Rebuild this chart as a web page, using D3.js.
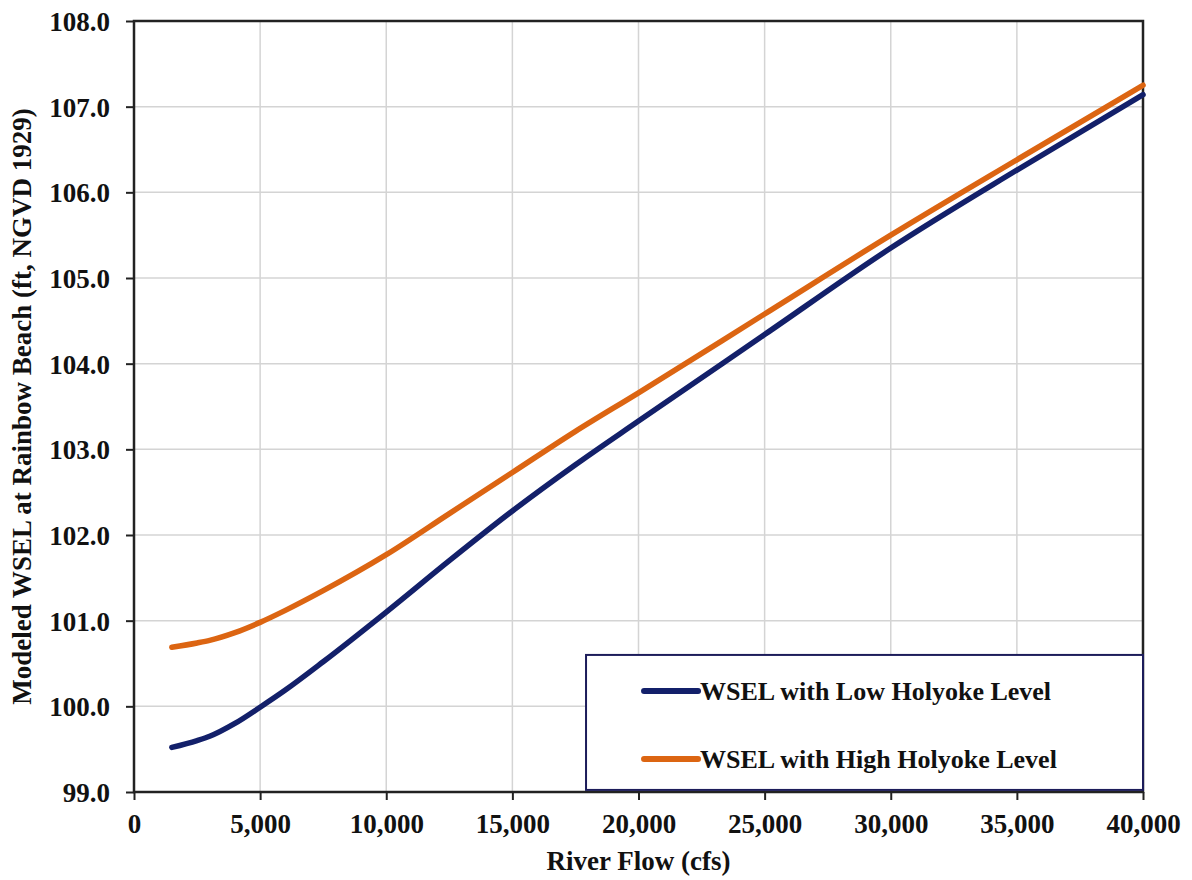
<!DOCTYPE html>
<html>
<head>
<meta charset="utf-8">
<script src="https://cdn.jsdelivr.net/npm/d3@7"></script>
<style>
  body { margin: 0; background: #fff; }
  svg { display: block; font-family: 'Liberation Serif', 'Times New Roman', serif; font-weight: bold; }
  .tick text { font-family: 'Liberation Serif', 'Times New Roman', serif; font-size: 27px; fill: #111; }
  .axis-title { font-size: 27px; fill: #111; }
  .legend-text { font-size: 26px; fill: #111; }
</style>
</head>
<body>
<svg id="chart"></svg>
<script>
// river flow (cfs)
var flows = [1500, 2500, 3000, 4000, 5000, 6000, 7500, 10000, 12500, 15000, 17500, 20000, 25000, 30000, 35000, 40000];
// WSEL with low Holyoke level (ft)
var lowLevel = [99.52, 99.60, 99.65, 99.80, 99.99, 100.19, 100.52, 101.10, 101.70, 102.28, 102.82, 103.33, 104.34, 105.35, 106.26, 107.14];
// WSEL with high Holyoke level (ft)
var highLevel = [100.69, 100.74, 100.77, 100.86, 100.98, 101.12, 101.35, 101.77, 102.25, 102.73, 103.21, 103.66, 104.58, 105.50, 106.38, 107.25];

var xTicks = [0, 5000, 10000, 15000, 20000, 25000, 30000, 35000, 40000];
var yTicks = [99, 100, 101, 102, 103, 104, 105, 106, 107, 108];

var seriesNames = ["WSEL with Low Holyoke Level", "WSEL with High Holyoke Level"];
var seriesColors = ["#13206a", "#dc6512"];

/* ~~~~~~~~~ SVG SETUP ~~~~~~~~~ */
var svgWidth = 1192, svgHeight = 880;
var margin = { top: 21, right: 49, bottom: 88, left: 134 };
var chartWidth = svgWidth - margin.left - margin.right,
    chartHeight = svgHeight - margin.top - margin.bottom;

var svg = d3.select("#chart").attr("width", svgWidth).attr("height", svgHeight);
var g = svg.append("g").attr("transform", "translate(" + margin.left + "," + margin.top + ")");

var x_scale = d3.scaleLinear().domain([0, 40000]).range([0, chartWidth]);
var y_scale = d3.scaleLinear().domain([99, 108]).range([chartHeight, 0]);

// gridlines
g.append("g").attr("class", "grid-x")
  .selectAll("line").data(xTicks.slice(1, -1)).enter().append("line")
  .attr("x1", function(d){ return x_scale(d); }).attr("x2", function(d){ return x_scale(d); })
  .attr("y1", 0).attr("y2", chartHeight)
  .attr("stroke", "#d4d4d4").attr("stroke-width", 1.5);

g.append("g").attr("class", "grid-y")
  .selectAll("line").data(yTicks.slice(1, -1)).enter().append("line")
  .attr("y1", function(d){ return y_scale(d); }).attr("y2", function(d){ return y_scale(d); })
  .attr("x1", 0).attr("x2", chartWidth)
  .attr("stroke", "#d4d4d4").attr("stroke-width", 1.5);

// axes (font attrs cleared so the serif css applies)
var xAxis = g.append("g").attr("class", "x-axis")
  .attr("transform", "translate(0," + chartHeight + ")")
  .call(d3.axisBottom(x_scale).tickValues(xTicks).tickSizeInner(8).tickSizeOuter(0).tickPadding(14)
        .tickFormat(d3.format(",")))
  .attr("font-family", null).attr("font-size", null);
xAxis.select(".domain").remove();
xAxis.selectAll("line").attr("stroke", "#222").attr("stroke-width", 2);

var yAxis = g.append("g").attr("class", "y-axis")
  .call(d3.axisLeft(y_scale).tickValues(yTicks).tickSizeInner(8).tickSizeOuter(0).tickPadding(16)
        .tickFormat(d3.format(".1f")))
  .attr("font-family", null).attr("font-size", null);
yAxis.select(".domain").remove();
yAxis.selectAll("line").attr("stroke", "#222").attr("stroke-width", 2);
yAxis.selectAll("text").attr("dy", "0.35em");

// plot frame
g.append("rect")
  .attr("x", 0).attr("y", 0).attr("width", chartWidth).attr("height", chartHeight)
  .attr("fill", "none").attr("stroke", "#222").attr("stroke-width", 2.5);

/* ~~~~~~~~~ lines ~~~~~~~~~ */
var series = [lowLevel, highLevel];
var line = d3.line()
  .x(function(d, i){ return x_scale(flows[i]); })
  .y(function(d){ return y_scale(d); })
  .curve(d3.curveMonotoneX);

g.append("g").attr("class", "lines")
  .selectAll("path").data(series).enter().append("path")
  .attr("d", line)
  .attr("fill", "none")
  .attr("stroke", function(d, i){ return seriesColors[i]; })
  .attr("stroke-width", 5.5)
  .attr("stroke-linecap", "round");

/* ~~~~~~~~~ legend ~~~~~~~~~ */
var legend = g.append("g").attr("class", "legend").attr("transform", "translate(" + x_scale(17920) + "," + y_scale(100.6) + ")");
legend.append("rect")
  .attr("width", chartWidth - x_scale(17920)).attr("height", 135)
  .attr("fill", "#fff").attr("stroke", "#1c1c5a").attr("stroke-width", 2);

var rows = legend.selectAll(".row").data(seriesNames).enter().append("g")
  .attr("class", "row")
  .attr("transform", function(d, i){ return "translate(0," + (36 + i * 68) + ")"; });
rows.append("line")
  .attr("x1", 58).attr("x2", 112)
  .attr("stroke", function(d, i){ return seriesColors[i]; })
  .attr("stroke-width", 6).attr("stroke-linecap", "round");
rows.append("text").attr("class", "legend-text")
  .attr("x", 114).attr("dy", "0.35em")
  .text(function(d){ return d; });

/* ~~~~~~~~~ axis titles ~~~~~~~~~ */
svg.append("text").attr("class", "axis-title")
  .attr("x", margin.left + chartWidth / 2).attr("y", 870)
  .attr("text-anchor", "middle")
  .text("River Flow  (cfs)");

svg.append("text").attr("class", "axis-title")
  .attr("transform", "translate(31," + (margin.top + chartHeight / 2) + ") rotate(-90)")
  .attr("text-anchor", "middle")
  .text("Modeled WSEL at Rainbow Beach (ft, NGVD 1929)");
</script>
</body>
</html>
